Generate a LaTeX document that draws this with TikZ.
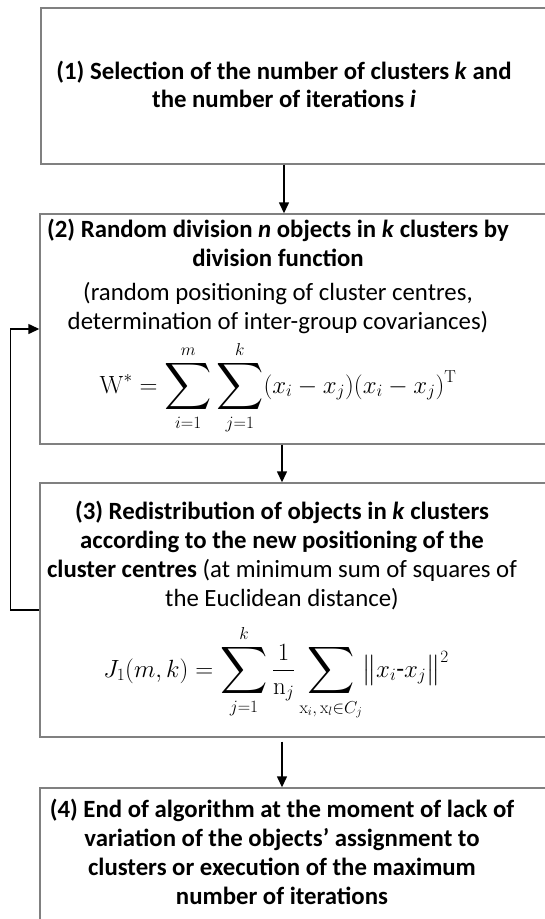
\documentclass[tikz,border=0pt]{standalone}
\usepackage{amsmath}
\usepackage[no-math]{fontspec}
\setmainfont{Carlito}
\usetikzlibrary{arrows.meta}
\newcommand{\bigsumop}{\mathop{\vcenter{\hbox{\scalebox{1.32}{$\displaystyle\sum$}}}}\limits}
\begin{document}
\begin{tikzpicture}[x=1pt,y=-1pt,
  box/.style={draw=black!50, line width=1.4pt, rectangle, inner sep=0pt},
  txt/.style={align=center, inner sep=0pt, font=\fontsize{24.8}{28.7}\selectfont},
  frm/.style={inner sep=0pt, font=\fontsize{25.5}{28}\selectfont},
  arr/.style={line width=1.4pt, -{Triangle[length=11pt,width=10pt]}}]
\useasboundingbox (0,0) rectangle (545,919);
\clip (0,0) rectangle (545,919);
% boxes (right edges run past the picture border)
\node[box, minimum width=529pt, minimum height=156pt] (b1) at (305.5,86) {};
\node[box, minimum width=530pt, minimum height=230pt] (b2) at (305,329) {};
\node[box, minimum width=530pt, minimum height=254pt] (b3) at (305,610) {};
\node[box, minimum width=530pt, minimum height=162pt] (b4) at (305,869) {};
% texts (base anchor = baseline of the last line)
\node[txt, anchor=base] (t1) at (284,107.7) {\bfseries (1) Selection of the number of clusters \textit{k} and\\ \bfseries the number of iterations \textit{i}};
\node[txt, anchor=base] (t2) at (278,329) {\bfseries (2) Random division \textit{n} objects in \textit{k} clusters by\\ \bfseries division function\\[5pt]
 (random positioning of cluster centres,\\ determination of inter-group covariances)};
\node[frm, anchor=base] (f2) at (278,393) {$\displaystyle \mathrm{W}^{*}=\bigsumop_{i=1}^{m}\bigsumop_{j=1}^{k}(x_i-x_j)(x_i-x_j)^{\mathrm{T}}$};
\node[txt, anchor=base] (t3) at (282,606) {\bfseries (3) Redistribution of objects in \textit{k} clusters\\ \bfseries according to the new positioning of the\\ \textbf{cluster centres} (at minimum sum of squares of\\ the Euclidean distance)};
\node[frm, anchor=base] (f3) at (276,677) {$\displaystyle J_1(m,k)=\bigsumop_{j=1}^{k}\frac{1}{\mathrm{n}_j}\bigsumop_{\mathrm{x}_i,\,\mathrm{x}_l\in C_j}\bigl\lVert x_i\text{-}x_j\bigr\rVert^2$};
\node[txt, anchor=base] (t4) at (282,904) {\bfseries (4) End of algorithm at the moment of lack of\\ \bfseries variation of the objects’ assignment to\\ \bfseries clusters or execution of the maximum\\ \bfseries number of iterations};
% connectors
\draw[arr] (b1.south -| t1.base) -- (b2.north -| t1.base);
\draw[arr] (b2.south -| t3.base) -- (b3.north -| t3.base);
\draw[arr, shorten <=4pt] (b3.south -| t4.base) -- (b4.north -| t4.base);
\draw[arr] (b3.west) -- ++(-29,0) |- (b2.west);
\end{tikzpicture}
\end{document}
